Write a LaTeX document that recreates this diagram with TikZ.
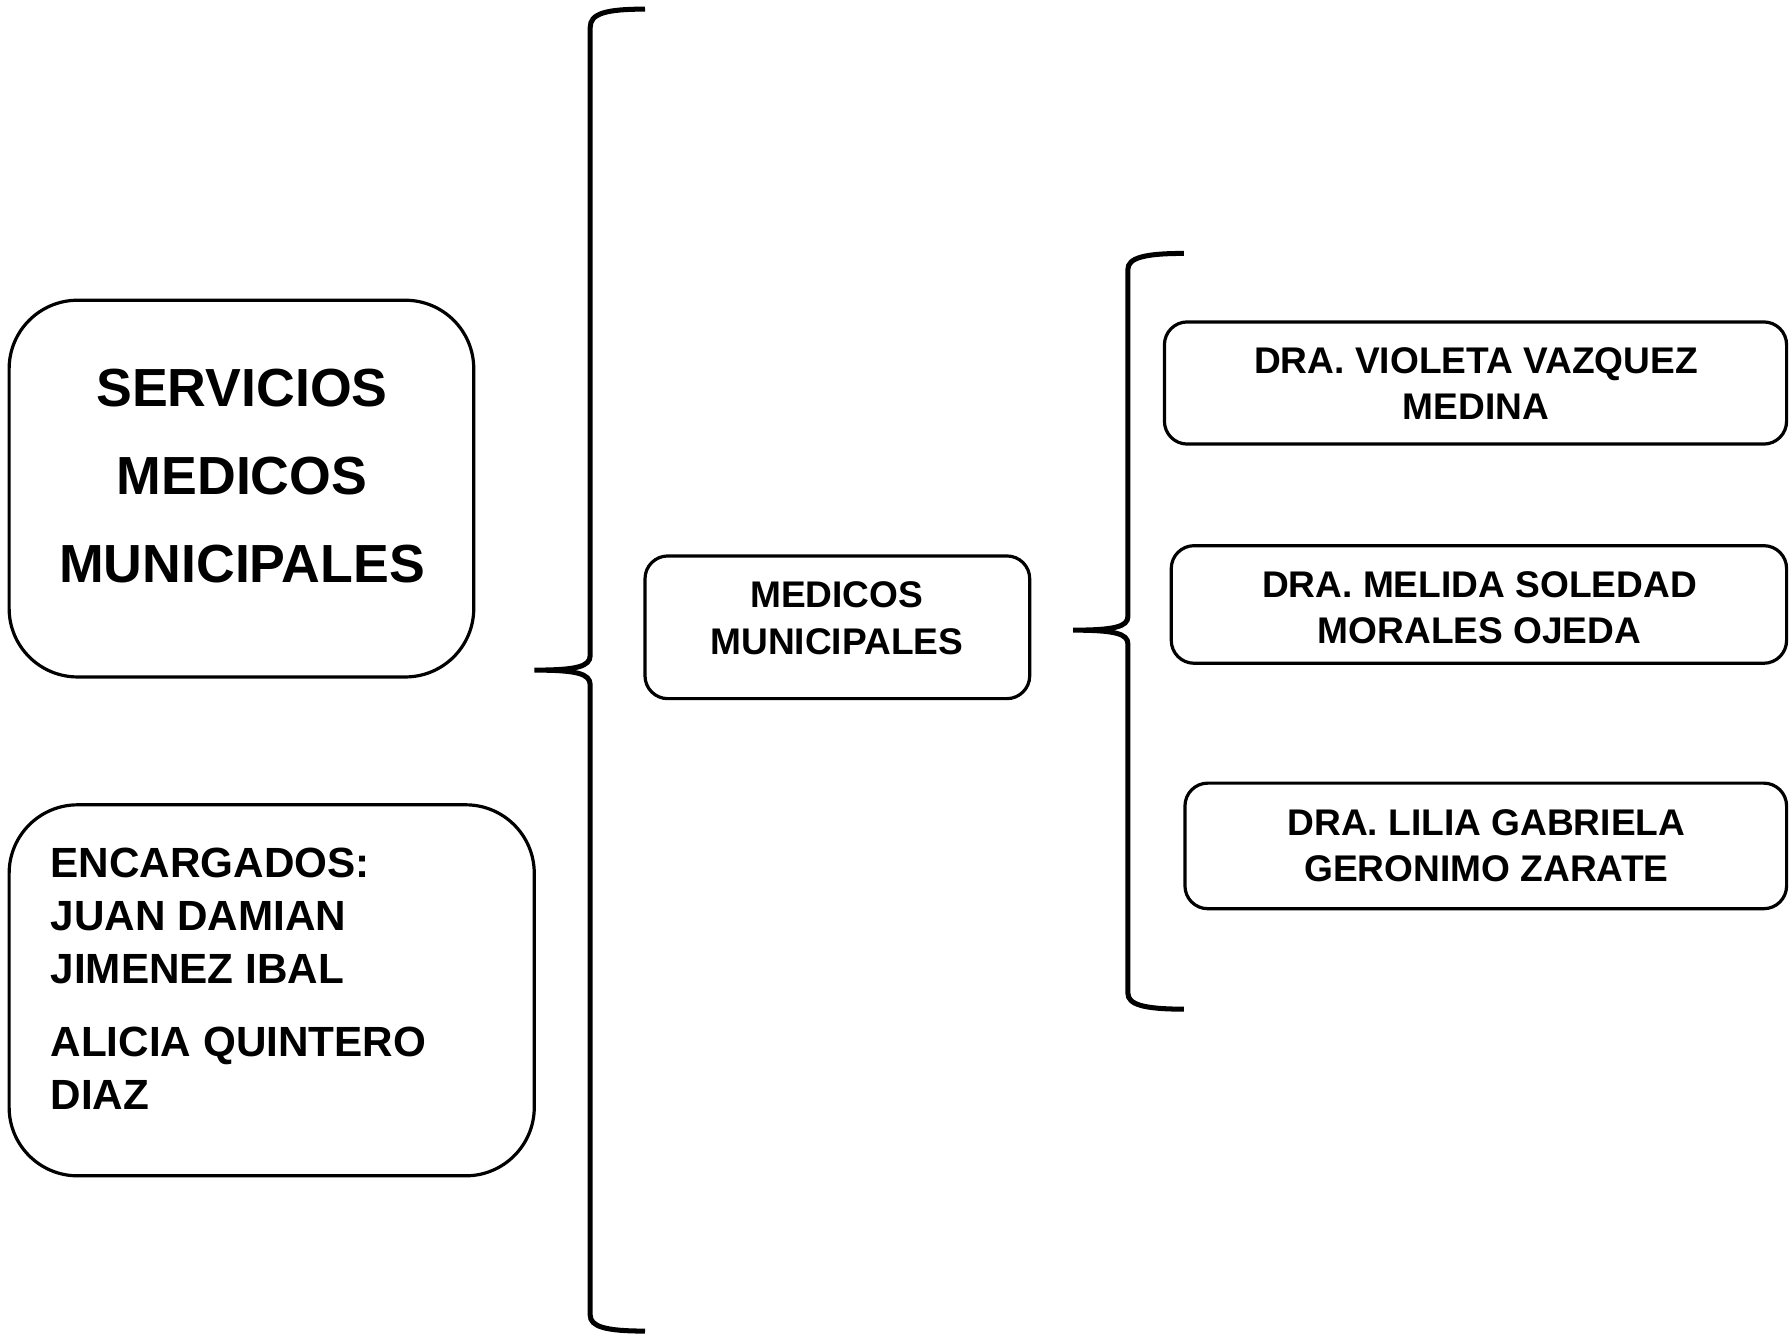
\documentclass[tikz,border=0pt]{standalone}
\usepackage{fontspec}
\setmainfont{Liberation Sans}
\begin{document}
\begin{tikzpicture}[x=0.5pt,y=-0.5pt,
  bigbox/.style={draw, line width=1.4pt, rounded corners=30pt, inner sep=0pt},
  smallbox/.style={draw, line width=1.4pt, rounded corners=10pt, inner sep=0pt},
  bracepath/.style={draw, line width=2.2pt},
  titletext/.style={font=\fontsize{23.5}{38.5}\selectfont\bfseries, align=center, inner sep=0pt},
  listtext/.style={font=\fontsize{18.5}{23.25}\selectfont\bfseries, align=left, inner sep=0pt, anchor=north west},
  boxtext/.style={font=\fontsize{16.25}{20.25}\selectfont\bfseries, align=center, inner sep=0pt}]
\useasboundingbox (0,0) rectangle (1568,1170);
% left boxes
\node[bigbox, minimum width=203.5pt, minimum height=165pt] (serv) at (211.5,428) {};
\node[titletext] (servt) at (212,417) {SERVICIOS\\MEDICOS\\MUNICIPALES};
\node[bigbox, minimum width=230pt, minimum height=162.5pt] (enc) at (238,867.5) {};
\node[listtext] (enct) at (44,742) {ENCARGADOS:\\JUAN DAMIAN\\JIMENEZ IBAL\\[8.75pt]ALICIA QUINTERO\\DIAZ};
% middle box
\node[smallbox, minimum width=168.5pt, minimum height=62.5pt] (med) at (733.5,549.5) {};
\node[boxtext] (medt) at (733,541.5) {MEDICOS\\MUNICIPALES};
% right boxes
\node[smallbox, minimum width=272.5pt, minimum height=53.5pt] (d1) at (1292.5,335.5) {};
\node[boxtext] (d1t) at (1293,336) {DRA. VIOLETA VAZQUEZ\\MEDINA};
\node[smallbox, minimum width=269.5pt, minimum height=51.5pt] (d2) at (1295.5,529.5) {};
\node[boxtext] (d2t) at (1296,532.5) {DRA. MELIDA SOLEDAD\\MORALES OJEDA};
\node[smallbox, minimum width=263.5pt, minimum height=55pt] (d3) at (1301.5,741) {};
\node[boxtext] (d3t) at (1302,740.5) {DRA. LILIA GABRIELA\\GERONIMO ZARATE};
% big brace
\coordinate (btop) at (565,8);
\coordinate (btip) at (468,587);
\coordinate (bbot) at (565,1166);
\path[bracepath] (btop) .. controls (530,8) and (517,12) .. (517,24) -- (517,574)
  .. controls (517,584) and (505,587) .. (btip)
  .. controls (505,587) and (517,590) .. (517,600) -- (517,1152)
  .. controls (517,1162) and (530,1166) .. (bbot);
% small brace
\coordinate (stop) at (1037,222);
\coordinate (stip) at (940,552);
\coordinate (sbot) at (1037,884);
\path[bracepath] (stop) .. controls (1002,222) and (988,226) .. (988,236) -- (988,540)
  .. controls (988,549) and (976,552) .. (stip)
  .. controls (976,552) and (988,555) .. (988,564) -- (988,870)
  .. controls (988,880) and (1002,884) .. (sbot);
\end{tikzpicture}
\end{document}
